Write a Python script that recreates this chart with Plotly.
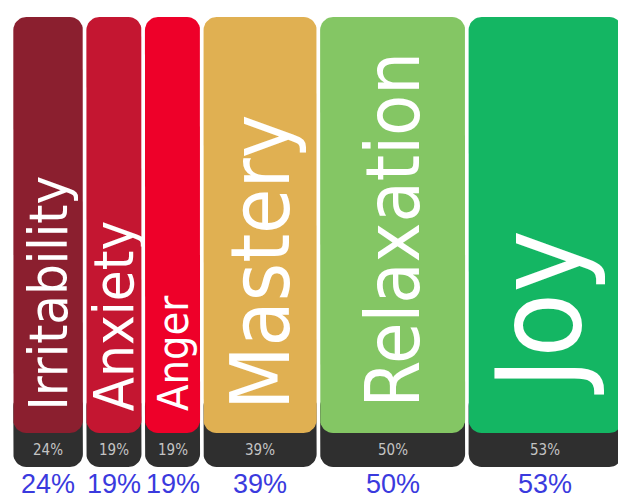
import numpy as np
import plotly.graph_objects as go

categories = ["Irritability", "Anxiety", "Anger", "Mastery", "Relaxation", "Joy"]
values = [24, 19, 19, 39, 50, 53]
pct_labels = ["24%", "19%", "19%", "39%", "50%", "53%"]

# styles
colors = ["#8b1f2f", "#c41631", "#ee0029", "#e0b052", "#84c664", "#14b663"]
label_sizes = [54, 56, 43, 82, 75, 118]
label_bottoms = [86, 86, 86, 87, 89, 102]
label_xshift = [0, 0, 0, 0, 0, -7]

XS = 2.9          # pixels per x unit
GAP = 1.2         # gap between columns, x units
R = 13            # corner radius, px
TOP, COL_BOTTOM, STRIP_BOTTOM = 482, 66, 32
W, H = 618, 499

lefts, centers = [], []
cum = 0.0
for i, v in enumerate(values):
    left = cum + GAP * i
    lefts.append(left)
    centers.append(left + v / 2)
    cum += v


def rounded_rect(x0, x1, y0, y1, r_px, n=10):
    rx, ry = r_px / XS, r_px
    xs, ys = [], []
    for cx, cy, a0 in [(x1 - rx, y0 + ry, -90), (x1 - rx, y1 - ry, 0),
                       (x0 + rx, y1 - ry, 90), (x0 + rx, y0 + ry, 180)]:
        t = np.radians(np.linspace(a0, a0 + 90, n))
        xs.extend(cx + rx * np.cos(t))
        ys.extend(cy + ry * np.sin(t))
    xs.append(xs[0]); ys.append(ys[0])
    return xs, ys


fig = go.Figure()

# dark strips
dx, dy = [], []
for left, v in zip(lefts, values):
    xs, ys = rounded_rect(left, left + v, STRIP_BOTTOM, COL_BOTTOM + 40, R)
    dx += xs + [None]; dy += ys + [None]
fig.add_trace(go.Scatter(x=dx, y=dy, mode="lines", fill="toself", fillcolor="#2f2f2f",
                         line=dict(width=0, color="#2f2f2f"), showlegend=False, hoverinfo="skip"))

# colored columns
for left, v, c, name in zip(lefts, values, colors, categories):
    xs, ys = rounded_rect(left, left + v, COL_BOTTOM, TOP, R)
    fig.add_trace(go.Scatter(x=xs, y=ys, mode="lines", fill="toself", fillcolor=c,
                             line=dict(width=0, color=c), name=name,
                             showlegend=False, hoverinfo="skip"))

annotations = []
for c, name, size, yb, xs_ in zip(centers, categories, label_sizes, label_bottoms, label_xshift):
    annotations.append(dict(x=c, y=yb, xref="x", yref="y", text=name, showarrow=False,
                            textangle=-90, xanchor="center", yanchor="bottom", xshift=xs_,
                            font=dict(family="DejaVu Sans Condensed, DejaVu Sans, sans-serif",
                                      size=size, color="white")))
for c, t in zip(centers, pct_labels):
    annotations.append(dict(x=c, y=49, xref="x", yref="y", text=t, showarrow=False,
                            xanchor="center", yanchor="middle",
                            font=dict(family="DejaVu Sans Condensed, sans-serif",
                                      size=15, color="#c4c4c4")))
    annotations.append(dict(x=c, y=15, xref="x", yref="y", text=t, showarrow=False,
                            xanchor="center", yanchor="middle",
                            font=dict(family="Liberation Sans, Arial, sans-serif", size=27, color="#3a3ade")))

fig.update_layout(
    width=W, height=H, margin=dict(l=0, r=0, t=0, b=0),
    paper_bgcolor="white", plot_bgcolor="white",
    xaxis=dict(range=[-13.3 / XS, (W - 13.3) / XS], visible=False, fixedrange=True),
    yaxis=dict(range=[0, H], visible=False, fixedrange=True),
    annotations=annotations,
)
fig.write_html("out.html", config={"displayModeBar": False, "staticPlot": True},
               post_script="document.body.style.margin='0';document.body.style.overflow='hidden';")
